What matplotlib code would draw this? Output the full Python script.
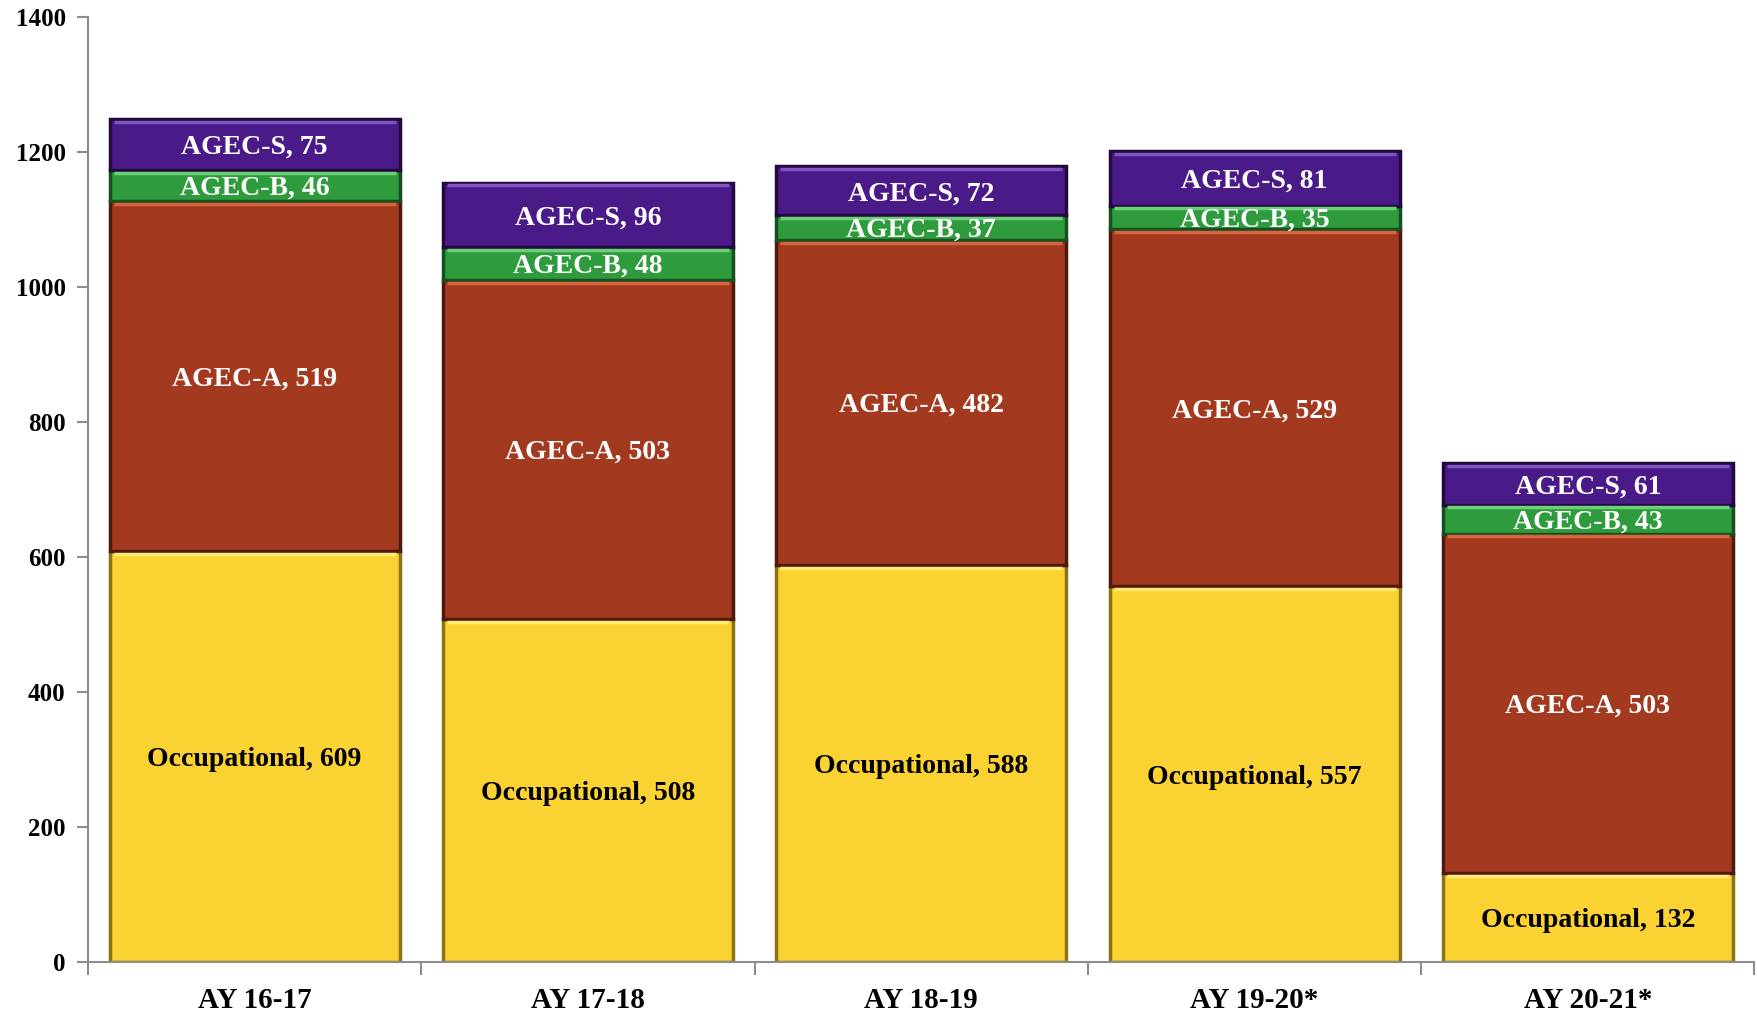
import numpy as np
import matplotlib.pyplot as plt

years = ['AY 16-17', 'AY 17-18', 'AY 18-19', 'AY 19-20*', 'AY 20-21*']
occupational = [609, 508, 588, 557, 132]
agec_a = [519, 503, 482, 529, 503]
agec_b = [46, 48, 37, 35, 43]
agec_s = [75, 96, 72, 81, 61]

names = ['Occupational', 'AGEC-A', 'AGEC-B', 'AGEC-S']
series = [occupational, agec_a, agec_b, agec_s]
fills = ['#FAD232', '#A33A20', '#2E9C3C', '#4A1A88']
edges = ['#8A7418', '#4E1A0E', '#165020', '#24093F']
highlights = ['#FDE878', '#D8623E', '#6BD07A', '#7E52C0']
txtcol = ['black', 'white', 'white', 'white']

plt.rcParams['font.family'] = ['Liberation Serif', 'DejaVu Serif']
plt.rcParams['font.weight'] = 'bold'

fig = plt.figure(figsize=(17.58, 10.16), dpi=100)
ax = fig.add_axes([0.050, 0.053, 0.948, 0.930])

x = np.arange(len(years))
w = 0.87
bottom = np.zeros(len(years))
for vals, name, fc, ec, hc, tc in zip(series, names, fills, edges, highlights, txtcol):
    vals = np.array(vals, dtype=float)
    ax.bar(x, vals, w, bottom=bottom, color=fc, edgecolor=ec, linewidth=2.5, zorder=2)
    # light bevel line near top of each segment
    for xi, b, v in zip(x, bottom, vals):
        ax.plot([xi - w / 2 + 0.012, xi + w / 2 - 0.012], [b + v - 4, b + v - 4],
                color=hc, lw=2.5, zorder=3, solid_capstyle='butt')
        ax.text(xi, b + v / 2, f'{name}, {int(v)}', ha='center', va='center_baseline',
                color=tc, fontsize=20, fontweight='bold', zorder=4)
    bottom += vals

ax.set_xlim(-0.5, len(years) - 0.5)
ax.set_ylim(0, 1400)
ax.set_yticks(np.arange(0, 1401, 200))
ax.set_xticks(x)
ax.set_xticklabels(years)
ax.set_xticks(np.arange(-0.5, len(years), 1), minor=True)
ax.tick_params(axis='x', which='major', length=0, pad=18, labelsize=21)
ax.tick_params(axis='x', which='minor', length=9, width=1.5, color='#8C8C8C')
ax.tick_params(axis='y', length=8, width=1.5, color='#8C8C8C', labelsize=18, pad=8)
for lbl in ax.get_xticklabels() + ax.get_yticklabels():
    lbl.set_fontweight('bold')

for s in ['top', 'right']:
    ax.spines[s].set_visible(False)
for s in ['left', 'bottom']:
    ax.spines[s].set_color('#8C8C8C')
    ax.spines[s].set_linewidth(1.5)

fig.savefig('out.png', dpi=100)
